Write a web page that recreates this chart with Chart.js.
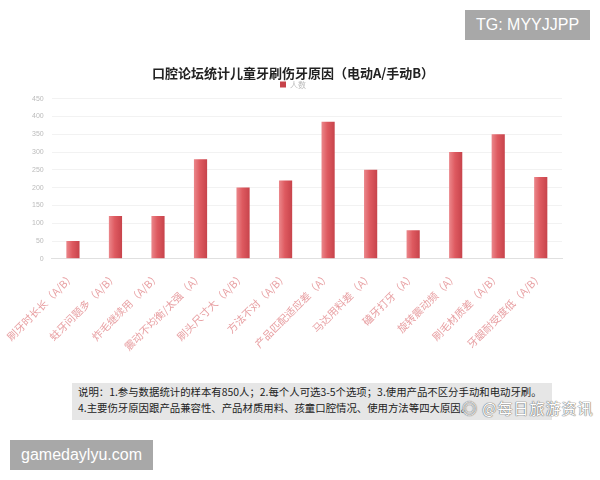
<!DOCTYPE html>
<html>
<head>
<meta charset="utf-8">
<script src="https://cdn.jsdelivr.net/npm/chart.js@4"></script>
<style>
  body { margin: 0; width: 600px; height: 480px; background: #fff; position: relative; overflow: hidden;
         font-family: "Noto Sans CJK SC", "Noto Sans", sans-serif; }
  #wrap { position: absolute; left: 0; top: 63px; width: 600px; height: 293px; }
  .tag { position: absolute; background: #a8a8a8; color: #fff; font-family: "Liberation Sans", Arial, sans-serif; }
  #tg { left: 465px; top: 10px; width: 125px; height: 30px; line-height: 30px; font-size: 16px; text-align: center; }
  #site { left: 10px; top: 440px; width: 143px; height: 30px; line-height: 30px; font-size: 16px; text-align: center; }
  #note { position: absolute; left: 72px; top: 383px; width: 480px; height: 37px; background: #e6e6e6;
          font-size: 10.4px; color: #222; line-height: 16px; padding: 1px 0 0 6px; box-sizing: border-box; white-space: nowrap; }
  #wm { position: absolute; left: 462px; top: 397px; font-size: 15px; color: #fff; letter-spacing: 1px;
        text-shadow: 0 0 1px #777, 0 0 1px #777, 0 0 1px #777; }
</style>
</head>
<body>
<div class="tag" id="tg">TG: MYYJJPP</div>
<div id="wrap"><canvas id="bars"></canvas></div>
<div id="note">说明：1.参与数据统计的样本有850人；2.每个人可选3-5个选项；3.使用产品不区分手动和电动牙刷。<br>4.主要伤牙原因跟产品兼容性、产品材质用料、孩童口腔情况、使用方法等四大原因。</div>
<div id="wm">◎ @每日旅游资讯</div>
<div class="tag" id="site">gamedaylyu.com</div>
<script>
const categories = [
  '刷牙时长长（A/B）', '蛀牙问题多（A/B）', '炸毛继续用（A/B）', '震动不均衡/太强（A）',
  '刷头尺寸大（A/B）', '方法不对（A/B）', '产品匹配适应差（A）', '马达用料差（A）',
  '磕牙打牙（A）', '旋转震动频（A）', '刷毛材质差（A/B）', '牙龈耐受度低（A/B）'
];
const counts = [50, 120, 120, 280, 200, 220, 385, 250, 80, 300, 350, 230];
const seriesName = '人数';
const yMax = 450;
const yStep = 50;

document.addEventListener('DOMContentLoaded', function () {
  const el = document.getElementById('bars');

  // bars look lit from the left, darker on the right edge
  function barFill(ctx) {
    const xs = ctx.chart.scales && ctx.chart.scales.x;
    if (!xs || ctx.type !== 'data') return '#dd5a60';
    const cx = xs.getPixelForValue(ctx.dataIndex);
    if (!Number.isFinite(cx)) return '#dd5a60';
    const g = ctx.chart.ctx.createLinearGradient(cx - 7, 0, cx + 7, 0);
    g.addColorStop(0, '#ec8a8e');
    g.addColorStop(0.45, '#de5a60');
    g.addColorStop(1, '#c6424a');
    return g;
  }

  new Chart(el, {
    type: 'bar',
    data: {
      labels: categories,
      datasets: [{
        label: seriesName,
        data: counts,
        backgroundColor: barFill,
        borderWidth: 0,
        barPercentage: 0.62,
        categoryPercentage: 0.5
      }]
    },
    options: {
      responsive: true,
      maintainAspectRatio: false,
      animation: false,
      layout: { padding: { left: 24, right: 38, top: 0, bottom: 0 } },
      plugins: {
        title: {
          display: true,
          text: '口腔论坛统计儿童牙刷伤牙原因（电动A/手动B）',
          color: '#222',
          font: { size: 13, weight: 'bold', family: '"Noto Sans CJK SC"' },
          padding: { top: 2, bottom: 0 }
        },
        legend: {
          display: true,
          position: 'top',
          labels: {
            color: '#bbb',
            boxWidth: 6,
            boxHeight: 6,
            padding: 0,
            font: { size: 8, family: '"Noto Sans CJK SC"' }
          }
        },
        tooltip: { enabled: false }
      },
      scales: {
        x: {
          grid: { display: false },
          border: { color: '#e0e0e0' },
          ticks: {
            color: '#e8a0a3',
            minRotation: 45,
            maxRotation: 45,
            autoSkip: false,
            font: { size: 10.5, family: '"Noto Sans CJK SC"' }
          }
        },
        y: {
          min: 0,
          max: yMax,
          grid: { color: '#f2f2f2', drawTicks: false },
          border: { display: false },
          ticks: {
            stepSize: yStep,
            color: '#bbb',
            padding: 8,
            font: { size: 7 }
          }
        }
      }
    }
  });
});
</script>
</body>
</html>
